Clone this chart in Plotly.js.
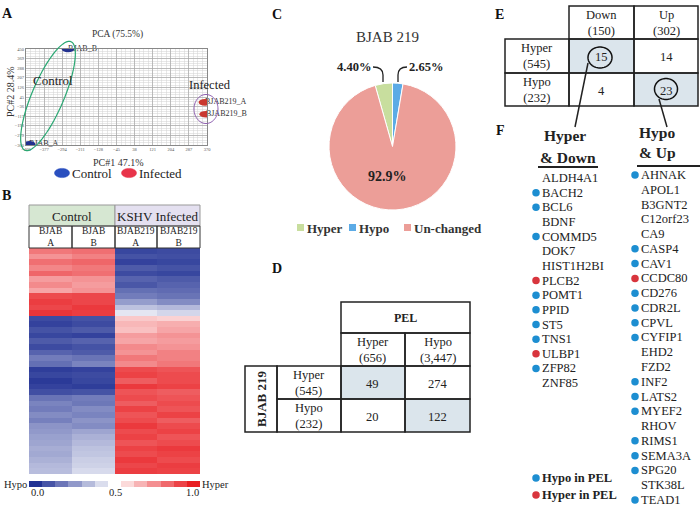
<!DOCTYPE html>
<html><head><meta charset="utf-8">
<script src="https://cdn.plot.ly/plotly-3.0.1.min.js"></script>
<style>html,body{margin:0;padding:0;background:#fff}#chart{width:700px;height:508px}</style>
</head><body><div id="chart"></div>
<script>
// ---------- Panel A: PCA ----------
const pcaSamples = ['BJAB_A', 'BJAB_B', 'BJAB219_A', 'BJAB219_B'];
const pcaGroup = ['Control', 'Control', 'Infected', 'Infected'];
const pcaPC1 = [-446, -267, 361, 365];
const pcaPC2 = [-355, 450, 0, -100];
const pcaXTicks = [-460, -377, -294, -211, -128, -45, 38, 121, 204, 287, 370];
const pcaYTicks = [-360, -279, -198, -117, -36, 45, 126, 207, 288, 369, 450];
const groupLabels = ['Control', 'Infected'];
const groupColors = ['#22318f', '#c9382f'];
const groupLegendColors = ['#2a4fbf', '#e8344a'];

// ---------- Panel B: heatmap ----------
const heatSamples = ['BJAB A', 'BJAB B', 'BJAB219 A', 'BJAB219 B'];
const heatGroups = ['Control', 'KSHV Infected'];
const heatRows = [
  [0.80, 0.82, 0.05, 0.06], [0.74, 0.78, 0.08, 0.07], [0.82, 0.84, 0.04, 0.05],
  [0.77, 0.80, 0.10, 0.08], [0.84, 0.82, 0.06, 0.05], [0.72, 0.74, 0.12, 0.10],
  [0.76, 0.72, 0.09, 0.12], [0.70, 0.74, 0.15, 0.14], [0.90, 0.91, 0.18, 0.16],
  [0.93, 0.91, 0.26, 0.22], [0.91, 0.94, 0.35, 0.33], [0.95, 0.93, 0.44, 0.40],
  [0.06, 0.08, 0.62, 0.60], [0.04, 0.06, 0.66, 0.68], [0.08, 0.10, 0.64, 0.70],
  [0.05, 0.04, 0.72, 0.74], [0.10, 0.12, 0.70, 0.72], [0.06, 0.08, 0.76, 0.74],
  [0.12, 0.10, 0.74, 0.78], [0.18, 0.16, 0.80, 0.78], [0.15, 0.20, 0.76, 0.80],
  [0.03, 0.04, 0.90, 0.88], [0.05, 0.06, 0.92, 0.90], [0.02, 0.05, 0.86, 0.90],
  [0.04, 0.03, 0.94, 0.92], [0.07, 0.08, 0.88, 0.86], [0.16, 0.18, 0.90, 0.88],
  [0.20, 0.17, 0.86, 0.90], [0.18, 0.22, 0.92, 0.88], [0.22, 0.20, 0.88, 0.92],
  [0.19, 0.24, 0.90, 0.86], [0.24, 0.22, 0.94, 0.90], [0.25, 0.28, 0.90, 0.92],
  [0.27, 0.31, 0.92, 0.88], [0.28, 0.33, 0.88, 0.90], [0.30, 0.35, 0.92, 0.94],
  [0.29, 0.36, 0.90, 0.92], [0.31, 0.38, 0.94, 0.90], [0.33, 0.39, 0.91, 0.93],
  [0.34, 0.41, 0.93, 0.92]
];
const colorbarLevels = [0, 0.083, 0.167, 0.25, 0.333, 0.417, 0.5, 0.583, 0.667, 0.75, 0.833, 0.917, 1];
const colorbarTickLabels = ['0.0', '0.5', '1.0'];
const heatScale = [[0, 'rgb(34,50,148)'], [0.5, 'rgb(255,255,255)'], [1, 'rgb(232,30,34)']];

// ---------- Panel C: pie ----------
const pieLabels = ['Hyper', 'Hypo', 'Un-changed'];
const pieValues = [4.40, 2.65, 92.9];
const pieColors = ['#c8de9e', '#5cabe6', '#ec9e98'];

// ---------- Panel D ----------
const dColLabels = ['Hyper<br>(656)', 'Hypo<br>(3,447)'];
const dRowLabels = ['Hyper<br>(545)', 'Hypo<br>(232)'];
const dValues = [[49, 274], [20, 122]];

// ---------- Panel E ----------
const eColLabels = ['Down<br>(150)', 'Up<br>(302)'];
const eRowLabels = ['Hyper<br>(545)', 'Hypo<br>(232)'];
const eValues = [[15, 14], [4, 23]];

// ---------- Panel F ----------
const hyperDownGenes = ['ALDH4A1','BACH2','BCL6','BDNF','COMMD5','DOK7','HIST1H2BI','PLCB2','POMT1','PPID','ST5','TNS1','ULBP1','ZFP82','ZNF85'];
const hyperDownPEL = ['', 'Hypo', 'Hypo', '', 'Hypo', '', '', 'Hyper', 'Hypo', 'Hypo', 'Hypo', 'Hypo', 'Hyper', 'Hypo', ''];
const hypoUpGenes = ['AHNAK','APOL1','B3GNT2','C12orf23','CA9','CASP4','CAV1','CCDC80','CD276','CDR2L','CPVL','CYFIP1','EHD2','FZD2','INF2','LATS2','MYEF2','RHOV','RIMS1','SEMA3A','SPG20','STK38L','TEAD1'];
const hypoUpPEL = ['Hypo', '', '', '', '', 'Hypo', 'Hypo', 'Hyper', 'Hypo', 'Hypo', 'Hypo', 'Hypo', '', '', 'Hypo', 'Hypo', 'Hypo', '', 'Hypo', 'Hypo', 'Hypo', '', 'Hypo'];
const pelLegend = ['Hypo in PEL', 'Hyper in PEL'];
const pelColors = {Hypo: '#1d8ed1', Hyper: '#d8353d'};

// ================= build =================
const W = 700, H = 508;
const X = x => x / W;
const Y = y => 1 - y / H;
const SERIF = 'Liberation Serif, Times New Roman, serif';
const shapes = [];
const annotations = [];
const traces = [];

function txt(x, y, t, o = {}) {
  annotations.push({xref: 'paper', yref: 'paper', x: X(x), y: Y(y), text: t, showarrow: false,
    xanchor: o.xa || 'center', yanchor: o.ya || 'middle', textangle: o.angle || 0,
    align: o.align || 'center', borderpad: 0,
    font: {family: SERIF, size: o.size || 12.5, color: o.color || '#222', weight: o.bold ? 'bold' : 'normal'}});
}
function rect(x0, y0, x1, y1, o = {}) {
  shapes.push({type: 'rect', xref: 'paper', yref: 'paper', x0: X(x0), x1: X(x1), y0: Y(y1), y1: Y(y0),
    fillcolor: o.fill || 'rgba(0,0,0,0)', line: {color: o.color || '#222', width: o.width === undefined ? 1.5 : o.width},
    layer: o.layer || 'above'});
}
function line(x0, y0, x1, y1, o = {}) {
  shapes.push({type: 'line', xref: 'paper', yref: 'paper', x0: X(x0), x1: X(x1), y0: Y(y0), y1: Y(y1),
    line: {color: o.color || '#222', width: o.width || 1.5}});
}
function ellipse(cx, cy, rx, ry, angDeg, o = {}) {
  const a = angDeg * Math.PI / 180;
  let p = '';
  for (let i = 0; i <= 72; i++) {
    const t = i / 72 * 2 * Math.PI;
    const ex = rx * Math.cos(t), ey = ry * Math.sin(t);
    const x = cx + ex * Math.cos(a) - ey * Math.sin(a);
    const y = cy - (ex * Math.sin(a) + ey * Math.cos(a));
    p += (i ? ' L ' : 'M ') + X(x).toFixed(5) + ' ' + Y(y).toFixed(5);
  }
  shapes.push({type: 'path', xref: 'paper', yref: 'paper', path: p + ' Z',
    fillcolor: o.fill || 'rgba(0,0,0,0)', line: {color: o.color, width: o.width || 1}});
}
function path(d, o = {}) {
  shapes.push({type: 'path', xref: 'paper', yref: 'paper', path: d, line: {color: o.color || '#222', width: o.width || 1.5}});
}

// ---- panel letters
txt(7, 14, 'A', {bold: true, size: 14, color: '#111'});
txt(6, 195, 'B', {bold: true, size: 14, color: '#111'});
txt(277, 15, 'C', {bold: true, size: 14, color: '#111'});
txt(277, 268, 'D', {bold: true, size: 14, color: '#111'});
txt(499, 15, 'E', {bold: true, size: 14, color: '#111'});
txt(500, 130, 'F', {bold: true, size: 14, color: '#111'});

// ---- Panel A
traces.push({type: 'scatter', mode: 'text', x: pcaPC1, y: pcaPC2, text: pcaSamples,
  textposition: 'middle right', cliponaxis: false, xaxis: 'x', yaxis: 'y', showlegend: false,
  textfont: {family: SERIF, size: 8, color: '#333'}, hoverinfo: 'skip'});
pcaPC1.forEach((v, i) => {
  shapes.push({type: 'circle', xref: 'x', yref: 'y', xsizemode: 'pixel', ysizemode: 'pixel',
    xanchor: v, yanchor: pcaPC2[i], x0: -6.5, x1: 6.5, y0: -3.3, y1: 3.3,
    fillcolor: groupColors[groupLabels.indexOf(pcaGroup[i])], line: {width: 0}});
});
txt(117, 35, 'PCA (75.5%)', {size: 9.5, color: '#333'});
txt(118, 162, 'PC#1 47.1%', {size: 10, color: '#333'});
txt(10, 92, 'PC#2 28.4%', {size: 10, color: '#333', angle: -90});
ellipse(48, 96, 59, 16, 67, {color: '#2aa873', width: 1.2});
ellipse(206, 109, 12, 14.5, 0, {color: '#8e5fb0', width: 1});
txt(53, 81, 'Control', {size: 13, color: '#222'});
txt(210, 85, 'Infected', {size: 12.5, color: '#222'});
[62, 129].forEach((cx, i) => {
  ellipse(cx, 173, 7.5, 4.6, 0, {fill: groupLegendColors[i], color: groupLegendColors[i], width: 0.5});
  txt(cx + 9, 173, groupLabels[i], {xa: 'left', size: 13, color: '#222'});
});

// ---- Panel B
rect(29, 205, 115, 226, {fill: '#d6e7d2', color: '#999', width: 1, layer: 'below'});
rect(115, 205, 200, 226, {fill: '#e4e0f0', color: '#999', width: 1, layer: 'below'});
txt(72, 216, heatGroups[0], {size: 13});
txt(157.5, 216, heatGroups[1], {size: 13});
const colEdges = [29, 72, 115, 157, 200];
heatSamples.forEach((s, i) => {
  rect(colEdges[i], 226, colEdges[i + 1], 248, {color: '#333', width: 1});
  const parts = s.split(' ');
  txt((colEdges[i] + colEdges[i + 1]) / 2, 237, parts[0] + '<br>' + parts[1], {size: 9.5});
});
traces.push({type: 'heatmap', z: heatRows, x: heatSamples, y: heatRows.map((r, i) => i),
  colorscale: heatScale, zmin: 0, zmax: 1, showscale: false, xaxis: 'x2', yaxis: 'y2', hoverinfo: 'skip'});
traces.push({type: 'heatmap', z: [colorbarLevels], x: colorbarLevels, y: [0],
  colorscale: heatScale, zmin: 0, zmax: 1, showscale: false, xaxis: 'x3', yaxis: 'y3', hoverinfo: 'skip'});
txt(28, 484, 'Hypo', {xa: 'right', size: 10.5});
txt(201, 484, 'Hyper', {xa: 'left', size: 10.5});
txt(30, 492, colorbarTickLabels[0], {xa: 'left', size: 10.5});
txt(115, 492, colorbarTickLabels[1], {size: 10.5});
txt(200, 492, colorbarTickLabels[2], {xa: 'right', size: 10.5});

// ---- Panel C
const pieTotal = pieValues.reduce((a, b) => a + b, 0);
traces.push({type: 'pie', labels: pieLabels, values: pieValues, sort: false, direction: 'clockwise',
  rotation: -pieValues[0] / pieTotal * 360, textinfo: 'none', hoverinfo: 'skip', showlegend: false,
  marker: {colors: pieColors, line: {color: '#fff', width: 1}},
  domain: {x: [X(329), X(456)], y: [Y(210), Y(83)]}});
txt(387, 37, 'BJAB 219', {size: 15, color: '#333'});
txt(354, 67, pieValues[0].toFixed(2) + '%', {size: 12.5, bold: true});
txt(426, 67, pieValues[1].toFixed(2) + '%', {size: 12.5, bold: true});
txt(387, 176, pieValues[2].toFixed(1) + '%', {size: 14, bold: true});
path(`M ${X(373)} ${Y(67)} Q ${X(383)} ${Y(67)} ${X(383)} ${Y(75)} L ${X(383)} ${Y(82)}`, {width: 1.3});
path(`M ${X(407)} ${Y(67)} Q ${X(398)} ${Y(67)} ${X(398)} ${Y(75)} L ${X(398)} ${Y(82)}`, {width: 1.3});
const pieLegX = [297, 349, 404];
pieLabels.forEach((l, i) => {
  rect(pieLegX[i], 224, pieLegX[i] + 7, 231, {fill: pieColors[i], color: pieColors[i], width: 0});
  txt(pieLegX[i] + 9, 228, l, {xa: 'left', size: 13, bold: true, color: '#333'});
});

// ---- Panel D
const dColX = [341, 405, 470], dRowY = [366, 399, 432];
rect(341, 302, 470, 333);
txt(405.5, 317.5, 'PEL', {size: 12, bold: true});
dColLabels.forEach((c, j) => { rect(dColX[j], 333, dColX[j + 1], 366); txt((dColX[j] + dColX[j + 1]) / 2, 349.5, c, {size: 12.5}); });
rect(245, 366, 277, 432);
txt(261, 399, 'BJAB 219', {size: 13, bold: true, angle: -90});
dRowLabels.forEach((r, i) => {
  rect(277, dRowY[i], 341, dRowY[i + 1]);
  txt(309, (dRowY[i] + dRowY[i + 1]) / 2, r, {size: 12.5});
  dValues[i].forEach((v, j) => {
    rect(dColX[j], dRowY[i], dColX[j + 1], dRowY[i + 1], {fill: i === j ? '#dbe5ec' : 'rgba(0,0,0,0)', layer: 'below', width: 0});
    rect(dColX[j], dRowY[i], dColX[j + 1], dRowY[i + 1]);
    txt((dColX[j] + dColX[j + 1]) / 2, (dRowY[i] + dRowY[i + 1]) / 2 + 1, String(v), {size: 12.5});
  });
});

// ---- Panel E
const eColX = [569, 634, 698], eRowY = [39, 73, 106];
eColLabels.forEach((c, j) => { rect(eColX[j], 6, eColX[j + 1], 39); txt((eColX[j] + eColX[j + 1]) / 2, 22.5, c, {size: 12.5}); });
eRowLabels.forEach((r, i) => {
  rect(505, eRowY[i], 569, eRowY[i + 1]);
  txt(537, (eRowY[i] + eRowY[i + 1]) / 2, r, {size: 12.5});
  eValues[i].forEach((v, j) => {
    rect(eColX[j], eRowY[i], eColX[j + 1], eRowY[i + 1], {fill: i === j ? '#dbe5ec' : 'rgba(0,0,0,0)', layer: 'below', width: 0});
    rect(eColX[j], eRowY[i], eColX[j + 1], eRowY[i + 1]);
    txt((eColX[j] + eColX[j + 1]) / 2, (eRowY[i] + eRowY[i + 1]) / 2 + 1, String(v), {size: 12.5});
  });
});
ellipse(600, 57.5, 12, 10.5, 0, {color: '#111', width: 1.5});
ellipse(666, 89, 11.5, 10.5, 0, {color: '#111', width: 1.5});
line(588, 63, 575, 127, {width: 1.5});
line(659, 99, 667, 127, {width: 1.5});

// ---- Panel F
txt(565, 135, 'Hyper', {size: 15.5, bold: true});
txt(568, 157, '&amp; Down', {size: 15.5, bold: true});
line(538, 167, 598, 167, {width: 2});
txt(657, 132, 'Hypo', {size: 15.5, bold: true});
txt(657, 152, '&amp; Up', {size: 15.5, bold: true});
line(637, 166, 700, 166, {width: 2});
function geneList(genes, pel, x, y0, step) {
  const ys = genes.map((g, i) => y0 + i * step);
  genes.forEach((g, i) => txt(x, ys[i], g, {xa: 'left', size: 12.5, color: '#222'}));
  ['Hypo', 'Hyper'].forEach(k => {
    const idx = pel.map((p, i) => p === k ? i : -1).filter(i => i >= 0);
    traces.push({type: 'scatter', mode: 'markers', x: idx.map(() => x - 5), y: idx.map(i => ys[i]),
      marker: {color: pelColors[k], size: 7.5}, xaxis: 'x4', yaxis: 'y4', showlegend: false, hoverinfo: 'skip', cliponaxis: false});
  });
}
geneList(hyperDownGenes, hyperDownPEL, 541, 178, 14.65);
geneList(hypoUpGenes, hypoUpPEL, 640, 175, 14.77);
pelLegend.forEach((l, i) => {
  const k = l.split(' ')[0];
  traces.push({type: 'scatter', mode: 'markers', x: [536], y: [478 + i * 17], marker: {color: pelColors[k], size: 7.5},
    xaxis: 'x4', yaxis: 'y4', showlegend: false, hoverinfo: 'skip', cliponaxis: false});
  txt(541, 478 + i * 17, l, {xa: 'left', size: 12.5, bold: true});
});

const hidden = {visible: false, fixedrange: true};
const layout = {
  width: W, height: H, margin: {l: 0, r: 0, t: 0, b: 0}, paper_bgcolor: '#fff', plot_bgcolor: 'rgba(0,0,0,0)',
  showlegend: false, font: {family: SERIF},
  xaxis: {domain: [X(26), X(207)], range: [-460, 370], tickmode: 'array', tickvals: pcaXTicks,
    showgrid: true, gridcolor: '#a8a8a8', gridwidth: 0.7, zeroline: false, showline: true, linecolor: '#888', mirror: true,
    minor: {dtick: 20.75, tick0: -460, showgrid: true, gridcolor: '#d2d2d2', gridwidth: 0.5},
    tickfont: {size: 4.5, color: '#555'}, ticks: '', anchor: 'y', fixedrange: true},
  yaxis: {domain: [Y(145), Y(49)], range: [-360, 450], tickmode: 'array', tickvals: pcaYTicks,
    showgrid: true, gridcolor: '#a8a8a8', gridwidth: 0.7, zeroline: false, showline: true, linecolor: '#888', mirror: true,
    minor: {dtick: 20.25, tick0: -360, showgrid: true, gridcolor: '#d2d2d2', gridwidth: 0.5},
    tickfont: {size: 4.5, color: '#555'}, ticks: '', anchor: 'x', fixedrange: true},
  xaxis2: Object.assign({domain: [X(29), X(200)], anchor: 'y2', type: 'category', range: [-0.5, 3.5]}, hidden),
  yaxis2: Object.assign({domain: [Y(474), Y(248)], anchor: 'x2', range: [heatRows.length - 0.5, -0.5]}, hidden),
  xaxis3: Object.assign({domain: [X(29), X(200)], anchor: 'y3', range: [-0.0415, 1.0415]}, hidden),
  yaxis3: Object.assign({domain: [Y(487), Y(481)], anchor: 'x3', range: [-0.5, 0.5]}, hidden),
  xaxis4: Object.assign({domain: [0, 1], anchor: 'y4', range: [0, W]}, hidden),
  yaxis4: Object.assign({domain: [0, 1], anchor: 'x4', range: [H, 0]}, hidden),
  shapes: shapes, annotations: annotations
};
Plotly.newPlot('chart', traces, layout, {staticPlot: true, displayModeBar: false});
</script></body></html>
